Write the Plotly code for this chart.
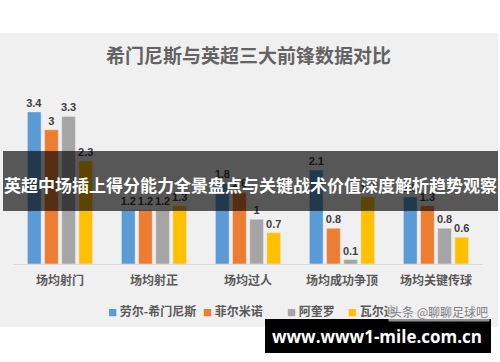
import plotly.graph_objects as go

categories = ["场均射门", "场均射正", "场均过人", "场均成功争顶", "场均关键传球"]
players = ["劳尔-希门尼斯", "菲尔米诺", "阿奎罗", "瓦尔迪"]
jimenez = [3.4, 1.2, 1.8, 2.1, 1.5]
firmino = [3.0, 1.2, 1.6, 0.8, 1.3]
aguero = [3.3, 1.2, 1.0, 0.1, 0.8]
vardy = [2.3, 1.3, 0.7, 1.5, 0.6]
series = [jimenez, firmino, aguero, vardy]
colors = ["#5B9BD5", "#ED7D31", "#A5A5A5", "#FFC000"]

title = "希门尼斯与英超三大前锋数据对比"
banner = "英超中场插上得分能力全景盘点与关键战术价值深度解析趋势观察"
site = "www.www1-mile.com.cn"
mark = "头条 @聊聊足球吧"

W, H = 500, 362
L, R, T, B = 13, 17, 90, 98
pw, ph = W - L - R, H - T - B

def px(x):
    return (x - L) / pw

def py(y):
    return (H - B - y) / ph

CJK = "Noto Sans CJK SC"

fig = go.Figure()
for name, vals, col in zip(players, series, colors):
    fig.add_trace(go.Bar(
        x=categories, y=vals, name=name, marker_color=col,
        text=[f"<b>{v:g}</b>" for v in vals], textposition="outside",
        textfont=dict(size=11, color="#404040", family="Liberation Sans"),
        constraintext="none", cliponaxis=False, showlegend=False,
    ))

shapes = [
    dict(type="rect", xref="paper", yref="paper", x0=px(0), x1=px(498), y0=py(327), y1=py(33),
         fillcolor="#f0f0f0", line_width=0, layer="below"),
    dict(type="rect", xref="paper", yref="paper", x0=px(3), x1=px(498), y0=py(211), y1=py(151),
         fillcolor="rgba(0,0,0,0.64)", line_width=0, layer="above"),
    dict(type="rect", xref="paper", yref="paper", x0=px(265), x1=px(491), y0=py(353), y1=py(319),
         fillcolor="#000000", line_width=0, layer="above"),
]

annotations = [
    dict(text=f"<b>{title}</b>", x=px(248), y=py(54), xref="paper", yref="paper", showarrow=False,
         font=dict(size=19, color="#636363", family=CJK), xanchor="center", yanchor="middle"),
    dict(text=f"<b>{banner}</b>", x=px(250), y=py(184), xref="paper", yref="paper", showarrow=False,
         font=dict(size=17, color="white", family=CJK), xanchor="center", yanchor="middle"),
    dict(text=f"<b>{site}</b>", x=px(377), y=py(336), xref="paper", yref="paper", showarrow=False,
         font=dict(size=17, color="white", family="Open Sans"), xanchor="center", yanchor="middle"),
]

legend_x = [106, 201, 285, 346]
for name, col, lx in zip(players, colors, legend_x):
    annotations.append(dict(
        text=f"<span style='color:{col};font-size:9px'>■</span> <b>{name}</b>",
        x=px(lx), y=py(310), xref="paper", yref="paper", showarrow=False,
        font=dict(size=12, color="#595959", family=CJK), xanchor="left", yanchor="middle"))

annotations.append(dict(text=mark, x=px(490), y=py(311), xref="paper", yref="paper", showarrow=False,
                        font=dict(size=12, color="#7f7f7f", family=CJK), xanchor="right", yanchor="middle",
                        bgcolor="rgba(240,240,240,0.6)"))

fig.update_layout(
    width=W, height=H, margin=dict(l=L, r=R, t=T, b=B, pad=0),
    paper_bgcolor="white", plot_bgcolor="rgba(0,0,0,0)",
    barmode="group", bargap=0.27, bargroupgap=0.2,
    shapes=shapes, annotations=annotations, showlegend=False,
    font=dict(family=CJK),
)
fig.update_xaxes(showline=True, linecolor="#d9d9d9", linewidth=1, ticks="", showgrid=False,
                 tickfont=dict(size=12, color="#595959", family=CJK), ticklabelstandoff=6,
                 tickvals=categories, ticktext=[f"<b>{c}</b>" for c in categories])
fig.update_yaxes(visible=False, range=[0, 3.89], showgrid=False)

fig.write_html("out.html")
